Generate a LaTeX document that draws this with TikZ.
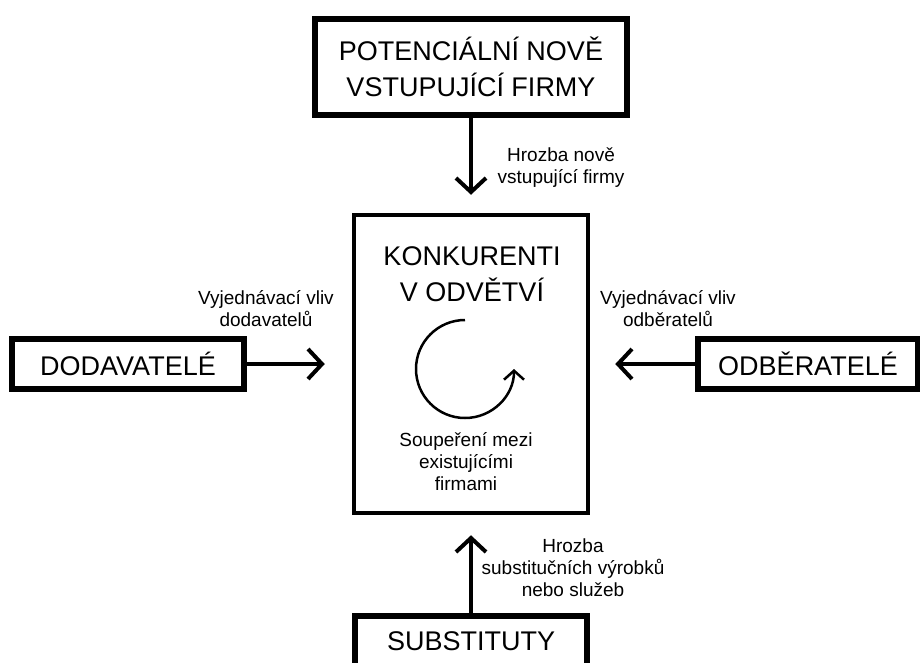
\documentclass[tikz,border=0pt]{standalone}
\usepackage{fontspec}
\setmainfont{Liberation Sans}
\usetikzlibrary{arrows.meta}
\tikzset{bigtext/.style = {align = center, font = \fontsize{27}{36}\selectfont}}
\tikzset{lbl/.style = {align = center, font = \fontsize{19}{22}\selectfont}}
\tikzset{forcebox/.style = {draw, line width = 6pt, inner sep = 0, bigtext}}
\tikzset{midbox/.style = {draw, line width = 4.5pt, inner sep = 0}}
\tikzset{force/.style = {line width = 4pt, -{Straight Barb[length = 14pt, width = 30pt]}}}

\begin{document}
\begin{tikzpicture}[x = 1pt, y = -1pt]
      \useasboundingbox (0, 0) rectangle (920, 662);

      \node [forcebox, minimum width = 312pt, minimum height = 96pt] (entrants) at (471, 67) {POTENCIÁLNÍ NOVĚ\\VSTUPUJÍCÍ FIRMY};
      \node [forcebox, minimum width = 232pt, minimum height = 50pt] (suppliers) at (128, 364) {DODAVATELÉ};
      \node [forcebox, minimum width = 220pt, minimum height = 50pt] (buyers) at (808, 364) {ODBĚRATELÉ};
      \node [forcebox, minimum width = 232pt, minimum height = 50pt] (substitutes) at (471, 641) {SUBSTITUTY};

      \node [midbox, minimum width = 234pt, minimum height = 298pt] (rivals) at (471, 364) {};
      \node [bigtext] (rivalstitle) at (472, 274) {KONKURENTI\\V ODVĚTVÍ};
      \node [lbl] (rivalry) at (466, 462) {Soupeření mezi\\existujícími\\firmami};

      % y points down, so the angles run clockwise
      \draw [line width = 2.5pt, -{Straight Barb[length = 9pt, width = 20pt]}] (465, 320) arc [start angle = -90, end angle = -360, radius = 49];

      \draw [force, shorten > = 18pt] (entrants) -- (rivals);
      \draw [force, shorten > = 27pt] (suppliers) -- (rivals);
      \draw [force, shorten > = 25pt] (buyers) -- (rivals);
      \draw [force, shorten > = 20pt] (substitutes) -- (rivals);

      \node [lbl] (entrythreat) at (561, 168) {Hrozba nově\\vstupující firmy};
      \node [lbl] (supplierpower) at (266, 309) {Vyjednávací vliv\\dodavatelů};
      \node [lbl] (buyerpower) at (668, 309) {Vyjednávací vliv\\odběratelů};
      \node [lbl] (substthreat) at (573, 568) {Hrozba\\substitučních výrobků\\nebo služeb};
    \end{tikzpicture}
\end{document}
